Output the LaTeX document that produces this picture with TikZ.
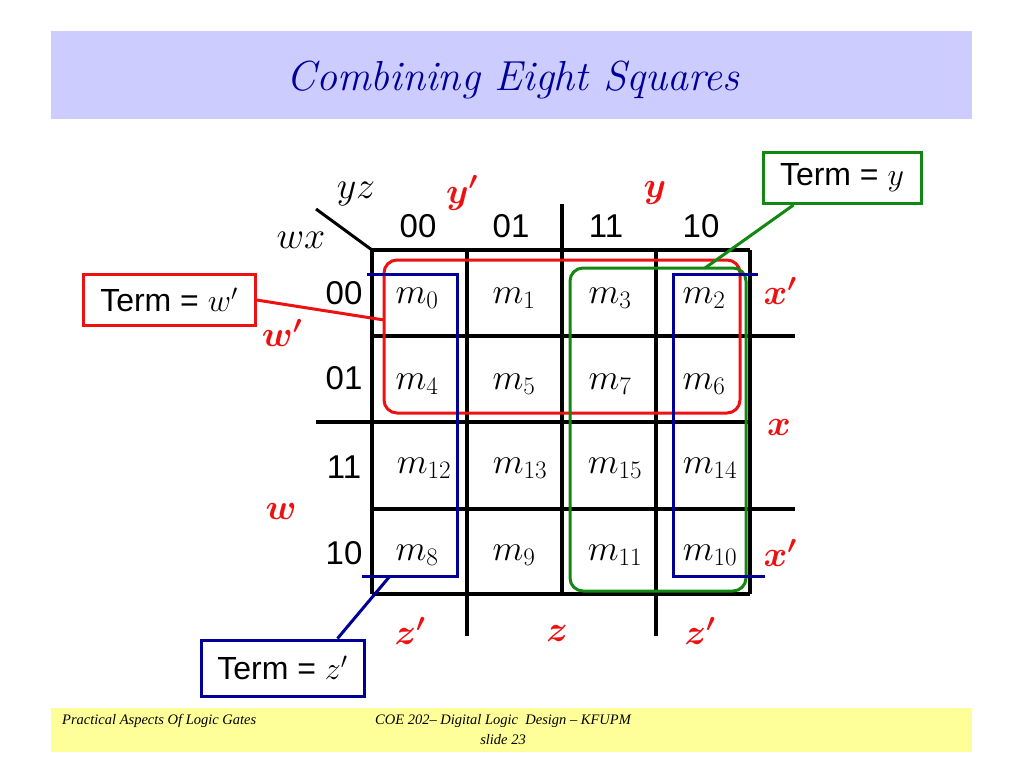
\RequirePackage{fix-cm}
\documentclass[tikz,border=0pt]{standalone}
\usepackage{amsmath}
\usepackage{bm}
\usepackage{fontspec}
\setsansfont{Liberation Sans}
\newfontfamily\footfont[Ligatures=TeX]{Liberation Serif}
\definecolor{titlebg}{HTML}{CCCCFF}
\definecolor{titlefg}{HTML}{000099}
\definecolor{footbg}{HTML}{FFFF99}
\definecolor{kred}{HTML}{EE1111}
\definecolor{kgreen}{HTML}{118811}
\definecolor{kblue}{HTML}{000099}
\tikzset{
  gridline/.style={line width=3.2pt,black},
  hdr/.style={font=\sffamily\fontsize{33}{38}\selectfont,inner sep=0pt},
  cell/.style={font=\fontsize{36}{42}\selectfont,inner sep=0pt},
  axl/.style={font=\fontsize{38}{44}\selectfont,inner sep=0pt},
  redlbl/.style={font=\fontsize{36}{42}\selectfont,text=kred,inner sep=0pt},
  termbox/.style={draw,line width=3pt,font=\sffamily\fontsize{32}{38}\selectfont,minimum height=51pt,inner sep=0pt},
  grp/.style={line width=3pt,rounded corners=13pt},
  conn/.style={line width=3pt},
  foot/.style={font=\footfont\itshape\fontsize{14.5}{17}\selectfont,inner sep=0pt}
}
\begin{document}
\begin{tikzpicture}[x=1pt,y=-1pt]
\useasboundingbox (0,0) rectangle (1024,768);
\fill[white] (0,0) rectangle (1024,768);
% title band
\fill[titlebg] (51,31) rectangle (972,119);
\node[font=\itshape\fontsize{42}{48}\selectfont,text=titlefg] (title) at (513,80) {Combining Eight Squares};
% footer band
\fill[footbg] (51,708) rectangle (972,752);
\node[foot,anchor=west] (f1) at (62,721) {Practical Aspects Of Logic Gates};
\node[foot] (f2) at (503,721) {COE 202– Digital Logic\ \ Design – KFUPM};
\node[foot] (f3) at (503,740) {slide 23};

% grid
\draw[gridline] (372,250) -- (750,250);
\draw[gridline] (372,336) -- (795,336);
\draw[gridline] (316,422) -- (750,422);
\draw[gridline] (372,509) -- (795,509);
\draw[gridline] (372,594) -- (750,594);
\draw[gridline] (372,250) -- (372,594);
\draw[gridline] (467,250) -- (467,636);
\draw[gridline] (562,204) -- (562,594);
\draw[gridline] (656,250) -- (656,636);
\draw[gridline] (750,250) -- (750,594);
\draw[line width=3pt] (316,209) -- (372,250);

% axis labels
\node[axl] (yz) at (356,194) {$yz$};
\node[axl] (wx) at (301,240) {$wx$};
\node[hdr] (h00) at (418,226) {00};
\node[hdr] (h01) at (511,226) {01};
\node[hdr] (h11) at (606,226) {11};
\node[hdr] (h10) at (701,226) {10};
\node[hdr] (v00) at (344,293) {00};
\node[hdr] (v01) at (344,378) {01};
\node[hdr] (v11) at (344,467) {11};
\node[hdr] (v10) at (344,553) {10};

% cells
\node[cell] (m0) at (417,298) {$m_{0}$};
\node[cell] (m1) at (514,298) {$m_{1}$};
\node[cell] (m3) at (610,298) {$m_{3}$};
\node[cell] (m2) at (704,298) {$m_{2}$};
\node[cell] (m4) at (417,384) {$m_{4}$};
\node[cell] (m5) at (514,384) {$m_{5}$};
\node[cell] (m7) at (610,384) {$m_{7}$};
\node[cell] (m6) at (704,384) {$m_{6}$};
\node[cell] (m12) at (424,468) {$m_{12}$};
\node[cell] (m13) at (520,468) {$m_{13}$};
\node[cell] (m15) at (615,468) {$m_{15}$};
\node[cell] (m14) at (710,468) {$m_{14}$};
\node[cell] (m8) at (417,555) {$m_{8}$};
\node[cell] (m9) at (514,555) {$m_{9}$};
\node[cell] (m11) at (615,555) {$m_{11}$};
\node[cell] (m10) at (710,555) {$m_{10}$};

% red variable labels
\node[redlbl] (yp) at (462,193) {$\bm{y'}$};
\node[redlbl] (y) at (655,193) {$\bm{y}$};
\node[redlbl] (xp1) at (780,291) {$\bm{x'}$};
\node[redlbl] (x) at (779,427) {$\bm{x}$};
\node[redlbl] (xp2) at (780,553) {$\bm{x'}$};
\node[redlbl] (wp) at (282,333) {$\bm{w'}$};
\node[redlbl] (w) at (281,511) {$\bm{w}$};
\node[redlbl] (zp1) at (410,631) {$\bm{z'}$};
\node[redlbl] (z) at (557,633) {$\bm{z}$};
\node[redlbl] (zp2) at (700,631) {$\bm{z'}$};

% groups
\draw[grp,kred] (384,260) rectangle (740,413);
\draw[grp,kgreen] (570,268) rectangle (746,591);
\draw[conn,kblue] (367,274) -- (457,274) -- (457,576) -- (362,576);
\draw[conn,kblue] (758,274) -- (673,274) -- (673,576) -- (765,576);
\coordinate (redhit) at (384,320);
\coordinate (greenhit) at (705,268);
\coordinate (bluehit) at (390,576);

% term boxes
\node[termbox,draw=kred,minimum width=172pt] (tw) at (169,300) {Term = $w'$};
\node[termbox,draw=kgreen,minimum width=158pt] (ty) at (842,178) {Term = $y$};
\node[termbox,draw=kblue,minimum width=163pt,minimum height=56pt] (tz) at (282.5,668) {Term = $z'$};
\draw[conn,kred] (tw.east) -- (redhit);
\draw[conn,kgreen] (ty.south west) ++(32,0) -- (greenhit);
\draw[conn,kblue] (tz.north east) ++(-28,0) -- (bluehit);
\end{tikzpicture}
\end{document}
